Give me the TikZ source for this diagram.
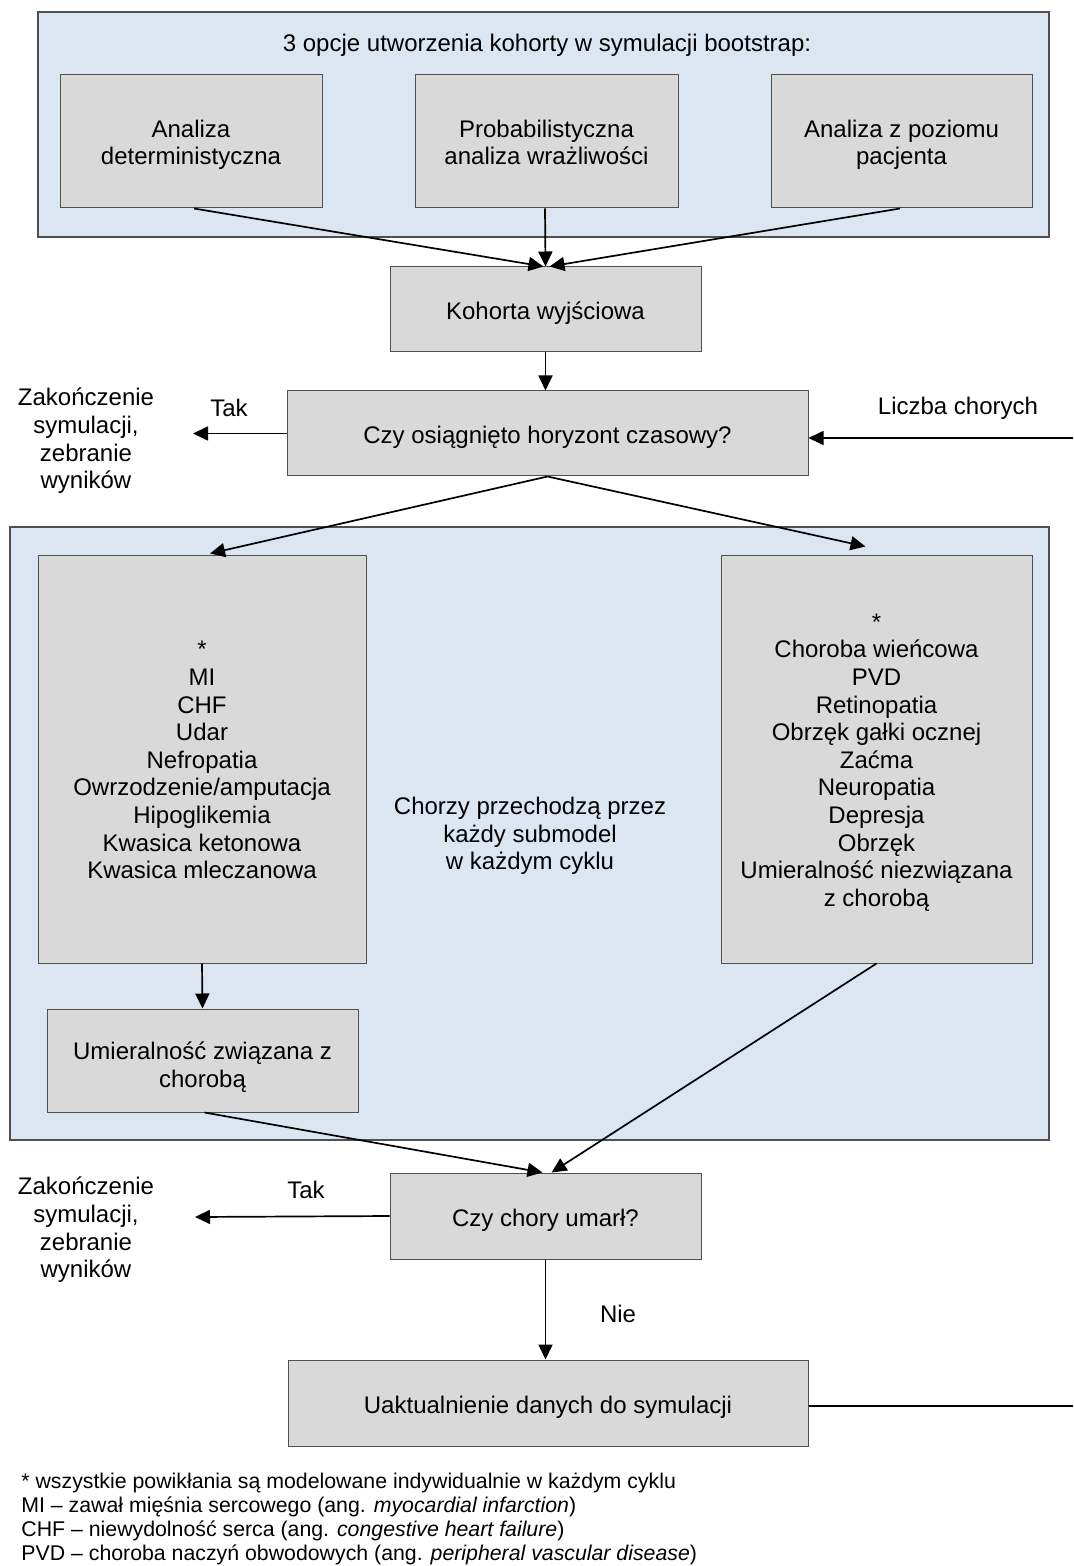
\documentclass[tikz,border=0pt]{standalone}
\usepackage{fontspec}
\setmainfont{Liberation Sans}
\usetikzlibrary{arrows.meta,calc}
\definecolor{outerblue}{RGB}{220,230,242}
\definecolor{boxgray}{RGB}{217,217,217}
\definecolor{edgegray}{RGB}{80,80,80}
\newcommand{\mainfs}{\fontsize{12}{13.8}\selectfont}
\newcommand{\footfs}{\fontsize{10.65}{12}\selectfont}
\newcommand{\tp}[1][13.5pt]{\rule{0pt}{#1}}
\tikzset{
  outerbox/.style={draw=edgegray, fill=outerblue, line width=0.6pt, inner sep=0pt},
  flowbox/.style={draw=edgegray, fill=boxgray, line width=0.5pt, align=center, inner sep=0pt, font=\mainfs,
    execute at begin node={\rule{0pt}{14.6pt}}, execute at end node={\strut}},
  plain/.style={align=center, inner sep=0pt, font=\mainfs},
  conn/.style={line width=0.85pt, -{Triangle[length=7.5pt,width=7pt]}},
  bare/.style={line width=0.85pt}
}
\begin{document}
\begin{tikzpicture}[x=0.5pt,y=-0.5pt]
\useasboundingbox (0,0) rectangle (1073,1566);
% top group
\node[outerbox, minimum width=505.5pt, minimum height=112.5pt] (topgrp) at (543.5,124.5) {};
\node[plain] (title) at (547,45) {3 opcje utworzenia kohorty w symulacji bootstrap:};
\node[flowbox, minimum width=131pt, minimum height=66.5pt] (b1) at (191,141.5) {\tp Analiza\\deterministyczna};
\node[flowbox, minimum width=131.5pt, minimum height=66.5pt] (b2) at (546.5,141.5) {\tp Probabilistyczna\\analiza wrażliwości};
\node[flowbox, minimum width=130.5pt, minimum height=66.5pt] (b3) at (901.5,141.5) {\tp Analiza z poziomu\\pacjenta};
% cohort
\node[flowbox, minimum width=155.5pt, minimum height=42.5pt] (koh) at (545.5,309.5) {Kohorta wyjściowa};
\node[flowbox, minimum width=260.5pt, minimum height=42.5pt] (czy1) at (547.5,433.5) {Czy osiągnięto horyzont czasowy?};
\node[plain] (zak1) at (86,441) {Zakończenie\\symulacji,\\zebranie\\wyników};
\node[plain] (tak1) at (229,408) {Tak};
\node[plain] (licz) at (958,408) {Liczba chorych};
% middle group
\node[outerbox, minimum width=519.5pt, minimum height=306.5pt] (midgrp) at (529.5,833.5) {};
\node[flowbox, minimum width=164pt, minimum height=204pt] (lb) at (202,759) {\tp *\\MI\\CHF\\Udar\\Nefropatia\\Owrzodzenie/amputacja\\Hipoglikemia\\Kwasica ketonowa\\Kwasica mleczanowa};
\node[flowbox, minimum width=155.5pt, minimum height=204pt] (rb) at (876.5,759) {\tp *\\Choroba wieńcowa\\PVD\\Retinopatia\\Obrzęk gałki ocznej\\Zaćma\\Neuropatia\\Depresja\\Obrzęk\\Umieralność niezwiązana\\z chorobą};
\node[plain] (mid) at (530,836) {Chorzy przechodzą przez\\każdy submodel\\w każdym cyklu};
\node[flowbox, minimum width=155.5pt, minimum height=51.5pt] (umier) at (202.5,1060.5) {\tp[17pt]Umieralność związana z\\chorobą};
% death check
\node[flowbox, minimum width=155.5pt, minimum height=43pt] (czy2) at (545.5,1216) {Czy chory umarł?};
\node[plain] (zak2) at (86,1230) {Zakończenie\\symulacji,\\zebranie\\wyników};
\node[plain] (tak2) at (306,1190) {Tak};
\node[plain] (nie) at (618,1314) {Nie};
\node[flowbox, minimum width=260pt, minimum height=43pt] (uakt) at (548,1403) {Uaktualnienie danych do symulacji};
% footer
\node[align=left, inner sep=0pt, font=\footfs, anchor=north west] (foot) at (21,1473) {* wszystkie powikłania są modelowane indywidualnie w każdym cyklu\\
MI – zawał mięśnia sercowego (ang. \textit{myocardial infarction})\\
CHF – niewydolność serca (ang. \textit{congestive heart failure})\\
PVD – choroba naczyń obwodowych (ang. \textit{peripheral vascular disease})};
% free ends
\coordinate (end1) at (193,433.5);
\coordinate (end2) at (195,1217);
\coordinate (inR) at (1073,438);
\coordinate (outR) at (1073,1406);
% connectors
\draw[conn] ($(b1.south)+(3,0)$) -- ($(koh.north)+(-2,0)$);
\draw[conn] ($(b2.south)+(-1.5,0)$) -- (koh.north);
\draw[conn] ($(b3.south)+(-1.5,0)$) -- ($(koh.north)+(4,0)$);
\draw[conn] (koh.south) -- (koh.south |- czy1.north);
\draw[conn] (czy1.west) -- (end1);
\draw[conn] (inR) -- (czy1.east |- inR);
\draw[conn] (czy1.south) -- ($(lb.north)+(8,-1)$);
\draw[conn] (czy1.south) -- ($(rb.north)+(-11,-8)$);
\draw[conn] (lb.south) -- (umier.north);
\draw[conn] ($(umier.south)+(2,0)$) -- ($(czy2.north)+(-3,0)$);
\draw[conn] (rb.south) -- ($(czy2.north)+(6,0)$);
\draw[conn] (czy2.west) -- (end2);
\draw[conn] (czy2.south) -- (czy2.south |- uakt.north);
\draw[bare] (uakt.east |- outR) -- (outR);
\end{tikzpicture}
\end{document}
